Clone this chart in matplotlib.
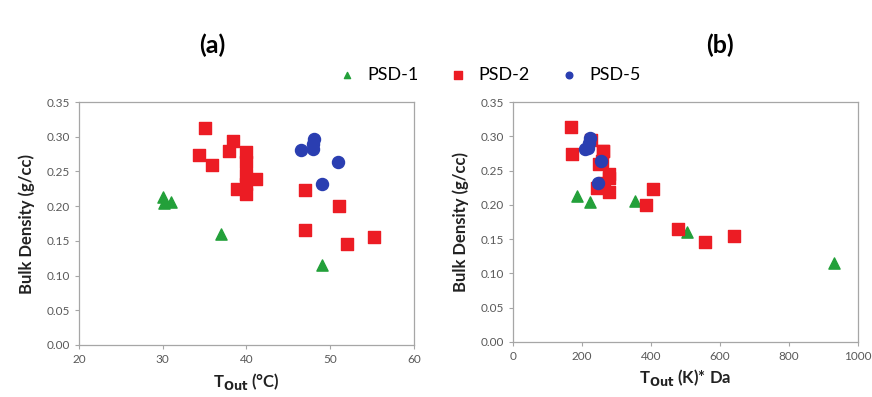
import matplotlib.pyplot as plt
import numpy as np

plt.rcParams['font.family'] = ['Lato', 'DejaVu Sans']

# PSD-1 (triangles)
psd1_tout = [30.0, 30.1, 31.0, 37.0, 49.0]
psd1_tda = [185, 225, 355, 505, 930]
psd1_bd = [0.213, 0.204, 0.206, 0.160, 0.115]

# PSD-2 (squares)
psd2_tout = [35.0, 34.3, 35.9, 38.4, 37.9, 40.0, 40.0, 40.0, 38.9, 39.9, 41.1, 40.0, 47.0, 51.0, 47.0, 52.0, 55.2]
psd2_tda = [170, 172, 250, 228, 262, 262, 258, 280, 245, 280, 278, 265, 405, 385, 478, 556, 640]
psd2_bd = [0.313, 0.274, 0.260, 0.294, 0.279, 0.278, 0.264, 0.245, 0.224, 0.218, 0.239, 0.232,
           0.223, 0.200, 0.165, 0.146, 0.155]

# PSD-5 (circles)
psd5_tout = [46.5, 48.1, 48.0, 47.9, 50.9, 49.0]
psd5_tda = [208, 225, 222, 218, 256, 246]
psd5_bd = [0.281, 0.297, 0.290, 0.283, 0.264, 0.232]

green = "#23a03a"
red = "#ec1c24"
blue = "#2a3eb1"
frame = "#a6a6a6"
tick_col = "#595959"

fig = plt.figure(figsize=(8.72, 3.97), dpi=100)
ax1 = fig.add_axes([0.0906, 0.131, 0.384, 0.612])
ax2 = fig.add_axes([0.588, 0.139, 0.396, 0.604])


def style_axis(ax):
    for s in ax.spines.values():
        s.set_color(frame)
        s.set_linewidth(0.9)
    ax.tick_params(axis="both", labelsize=8.5, colors=frame, labelcolor=tick_col,
                   direction="out", length=3, width=0.8)
    ax.set_ylim(0, 0.35)
    ax.set_yticks(np.arange(0, 0.351, 0.05))
    ax.set_yticklabels([f"{v:.2f}" for v in np.arange(0, 0.351, 0.05)])
    ax.set_ylabel("Bulk Density (g/cc)", fontsize=12, fontweight="bold", color="#222222",
                  labelpad=8)


for ax, x1, x2, x5 in [(ax1, psd1_tout, psd2_tout, psd5_tout),
                       (ax2, psd1_tda, psd2_tda, psd5_tda)]:
    ax.scatter(x1, psd1_bd, marker="^", s=65, color=green, label="PSD-1", zorder=3)
    ax.scatter(x2, psd2_bd, marker="s", s=85, color=red, label="PSD-2", zorder=3)
    ax.scatter(x5, psd5_bd, marker="o", s=75, color=blue, label="PSD-5", zorder=4)
    style_axis(ax)

ax1.set_xlim(20, 60)
ax1.set_xticks([20, 30, 40, 50, 60])
ax1.set_xlabel("T$_{\\mathbf{Out}}$ (°C)", fontsize=12, fontweight="bold", color="#222222")

ax2.set_xlim(0, 1000)
ax2.set_xticks([0, 200, 400, 600, 800, 1000])
ax2.set_xlabel("T$_{\\mathbf{Out}}$ (K)* Da", fontsize=12, fontweight="bold", color="#222222")

fig.text(0.243, 0.887, "(a)", fontsize=18, fontweight="bold", ha="center", va="center")
fig.text(0.826, 0.887, "(b)", fontsize=18, fontweight="bold", ha="center", va="center")

handles, labels = ax1.get_legend_handles_labels()
fig.legend(handles, labels, loc="center", bbox_to_anchor=(0.556, 0.811), ncol=3,
           frameon=False, fontsize=13, handletextpad=0.1, columnspacing=1.2,
           markerscale=0.55)

fig.savefig("out.png", dpi=100)
